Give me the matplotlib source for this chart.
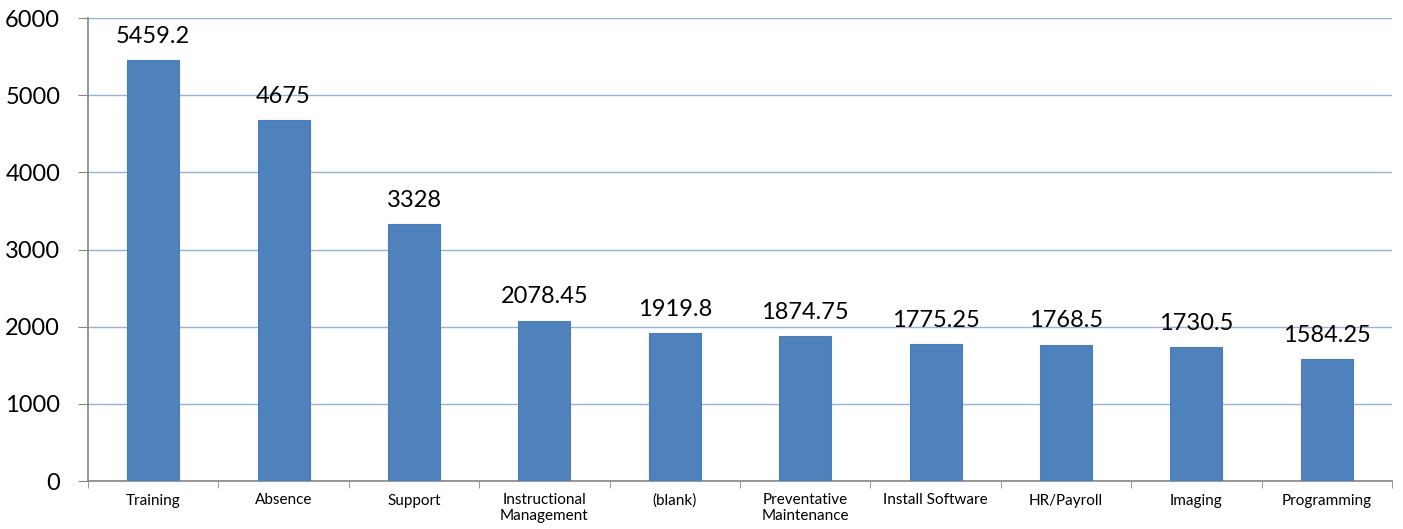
import matplotlib
matplotlib.use("Agg")
import matplotlib.pyplot as plt
import numpy as np

categories = ["Training", "Absence", "Support", "Instructional\nManagement", "(blank)",
              "Preventative\nMaintenance", "Install Software", "HR/Payroll", "Imaging", "Programming"]
values = [5459.2, 4675, 3328, 2078.45, 1919.8, 1874.75, 1775.25, 1768.5, 1730.5, 1584.25]
labels = ["5459.2", "4675", "3328", "2078.45", "1919.8", "1874.75", "1775.25", "1768.5", "1730.5", "1584.25"]
yticks = [0, 1000, 2000, 3000, 4000, 5000, 6000]

plt.rcParams['font.family'] = ['Lato', 'DejaVu Sans']
fig = plt.figure(figsize=(14.03, 5.29), dpi=100)
ax = fig.add_axes([88/1403, 1-481/529, (1392-88)/1403, (481-18)/529])

x = np.arange(len(categories))
ax.bar(x, values, width=0.4, color="#4F81BD", edgecolor="#4A7EBB", linewidth=0.8, zorder=3)
for xi, v, l in zip(x, values, labels):
    ax.text(xi, v + 170, l, ha="center", va="bottom", fontsize=17, color="black")

ax.set_xlim(-0.5, len(categories) - 0.5)
ax.set_ylim(0, 6000)
ax.set_yticks(yticks)
ax.set_yticklabels([str(t) for t in yticks], fontsize=17)
ax.yaxis.grid(True, color="#95B3D7", linewidth=1, zorder=0)
ax.set_xticks(x)
ax.set_xticklabels(categories, fontsize=11, linespacing=1.15)
ax.set_xticks(np.arange(-0.5, len(categories)), minor=True)
ax.tick_params(axis="x", which="major", length=0, pad=9)
ax.tick_params(axis="x", which="minor", length=5, color="#868686", direction="out")
ax.tick_params(axis="y", length=7, color="#868686", direction="out", pad=13)
for s in ["top", "right"]:
    ax.spines[s].set_visible(False)
for s in ["left", "bottom"]:
    ax.spines[s].set_color("#868686")
    ax.spines[s].set_linewidth(1.2)
ax.set_axisbelow(True)

fig.savefig("out.png", dpi=100)
